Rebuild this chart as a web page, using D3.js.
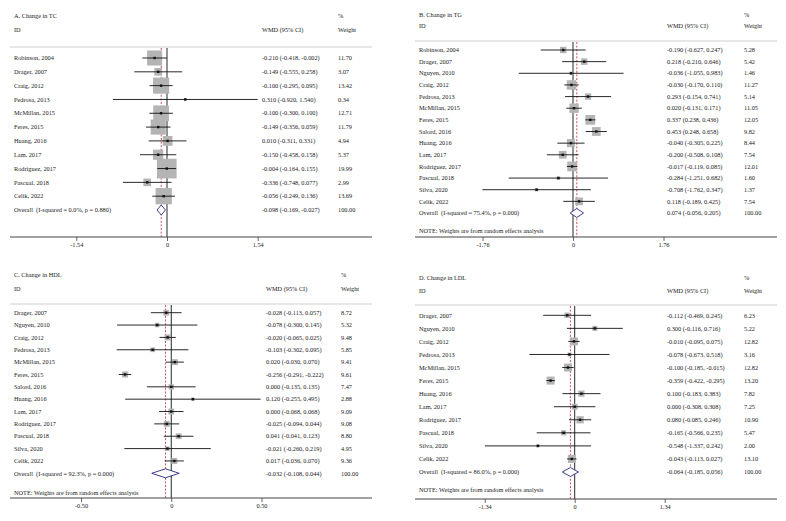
<!DOCTYPE html>
<html><head><meta charset="utf-8">
<script src="https://cdn.jsdelivr.net/npm/d3@7"></script>
<style>
body{margin:0;background:#fff}
text{font-family:"Liberation Serif","Times New Roman",serif;font-size:6.3px;fill:#1a1a1a;white-space:pre}
</style>
</head><body><svg id="c" width="786" height="521"></svg>
<script>
// ---------- DATA ----------
const tcStudies = ["Robinson, 2004","Drager, 2007","Craig, 2012","Pedrosa, 2013","McMillan, 2015","Feres, 2015","Huang, 2016","Lam, 2017","Rodriguez, 2017","Pascual, 2018","Celik, 2022"];
const tcWMD    = [-0.210,-0.149,-0.100,0.310,-0.100,-0.149,0.010,-0.150,-0.004,-0.336,-0.056];
const tcLower  = [-0.418,-0.555,-0.295,-0.920,-0.300,-0.356,-0.311,-0.458,-0.164,-0.748,-0.249];
const tcUpper  = [-0.002,0.258,0.095,1.540,0.100,0.059,0.331,0.158,0.155,0.077,0.136];
const tcWeight = [11.70,3.07,13.42,0.34,12.71,11.79,4.94,5.37,19.99,2.99,13.69];
const tcOverall = [-0.098,-0.169,-0.027];
const tcOverallLabel = "Overall  (I-squared = 0.0%, p = 0.880)";
const tcTicks = [-1.54,0,1.54];

const tgStudies = ["Robinson, 2004","Drager, 2007","Nguyen, 2010","Craig, 2012","Pedrosa, 2013","McMillan, 2015","Feres, 2015","Salord, 2016","Huang, 2016","Lam, 2017","Rodriguez, 2017","Pascual, 2018","Silva, 2020","Celik, 2022"];
const tgWMD    = [-0.190,0.218,-0.036,-0.030,0.293,0.020,0.337,0.453,-0.040,-0.200,-0.017,-0.284,-0.708,0.118];
const tgLower  = [-0.627,-0.210,-1.055,-0.170,-0.154,-0.131,0.238,0.248,-0.305,-0.508,-0.119,-1.251,-1.762,-0.189];
const tgUpper  = [0.247,0.646,0.983,0.110,0.741,0.171,0.436,0.658,0.225,0.108,0.085,0.682,0.347,0.425];
const tgWeight = [5.28,5.42,1.46,11.27,5.14,11.05,12.05,9.82,8.44,7.54,12.01,1.60,1.37,7.54];
const tgOverall = [0.074,-0.056,0.205];
const tgOverallLabel = "Overall  (I-squared = 75.4%, p = 0.000)";
const tgTicks = [-1.76,0,1.76];

const hdlStudies = ["Drager, 2007","Nguyen, 2010","Craig, 2012","Pedrosa, 2013","McMillan, 2015","Feres, 2015","Salord, 2016","Huang, 2016","Lam, 2017","Rodriguez, 2017","Pascual, 2018","Silva, 2020","Celik, 2022"];
const hdlWMD    = [-0.028,-0.078,-0.020,-0.103,0.020,-0.256,0.000,0.120,0.000,-0.025,0.041,-0.021,0.017];
const hdlLower  = [-0.113,-0.300,-0.065,-0.302,-0.030,-0.291,-0.135,-0.255,-0.068,-0.094,-0.041,-0.260,-0.036];
const hdlUpper  = [0.057,0.145,0.025,0.095,0.070,-0.222,0.135,0.495,0.068,0.044,0.123,0.219,0.070];
const hdlWeight = [8.72,5.32,9.48,5.85,9.41,9.61,7.47,2.88,9.09,9.08,8.80,4.95,9.36];
const hdlOverall = [-0.032,-0.108,0.044];
const hdlOverallLabel = "Overall  (I-squared = 92.3%, p = 0.000)";
const hdlTicks = [-0.50,0,0.50];

const ldlStudies = ["Drager, 2007","Nguyen, 2010","Craig, 2012","Pedrosa, 2013","McMillan, 2015","Feres, 2015","Huang, 2016","Lam, 2017","Rodriguez, 2017","Pascual, 2018","Silva, 2020","Celik, 2022"];
const ldlWMD    = [-0.112,0.300,-0.010,-0.078,-0.100,-0.359,0.100,0.000,0.080,-0.165,-0.548,-0.043];
const ldlLower  = [-0.469,-0.116,-0.095,-0.673,-0.185,-0.422,-0.183,-0.308,-0.085,-0.566,-1.337,-0.113];
const ldlUpper  = [0.245,0.716,0.075,0.518,-0.015,-0.295,0.383,0.308,0.246,0.235,0.242,0.027];
const ldlWeight = [6.23,5.22,12.82,3.16,12.82,13.20,7.82,7.25,10.90,5.47,2.00,13.10];
const ldlOverall = [-0.064,-0.185,0.056];
const ldlOverallLabel = "Overall  (I-squared = 86.0%, p = 0.000)";
const ldlTicks = [-1.34,0,1.34];

const noteText = "NOTE: Weights are from random effects analysis";

// ---------- LAYOUT ----------
const panels = [
  {title:"A. Change in TC", studies:tcStudies, wmd:tcWMD, lo:tcLower, hi:tcUpper, w:tcWeight, overall:tcOverall, overallLabel:tcOverallLabel, ticks:tcTicks, note:false,
   x0:10, x1:372, titleY:16, idY:30, headY:47, firstY:58, lastY:210, noteY:0, axisY:237, tickRange:[76.3,257.7], wmdX:262, wtX:338, boxK:4.4, dh:5},
  {title:"B. Change in TG", studies:tgStudies, wmd:tgWMD, lo:tgLower, hi:tgUpper, w:tgWeight, overall:tgOverall, overallLabel:tgOverallLabel, ticks:tgTicks, note:true,
   x0:415, x1:777, titleY:15, idY:26, headY:41, firstY:50, lastY:213, noteY:231, axisY:237, tickRange:[482.5,663.5], wmdX:667, wtX:744, boxK:2.8, dh:4.5},
  {title:"C. Change in HDL", studies:hdlStudies, wmd:hdlWMD, lo:hdlLower, hi:hdlUpper, w:hdlWeight, overall:hdlOverall, overallLabel:hdlOverallLabel, ticks:hdlTicks, note:true,
   x0:10, x1:372, titleY:275, idY:289, headY:304, firstY:312.7, lastY:473.3, noteY:493, axisY:498, tickRange:[81,261.5], wmdX:266, wtX:341, boxK:1.95, dh:4.5},
  {title:"D. Change in LDL", studies:ldlStudies, wmd:ldlWMD, lo:ldlLower, hi:ldlUpper, w:ldlWeight, overall:ldlOverall, overallLabel:ldlOverallLabel, ticks:ldlTicks, note:true,
   x0:415, x1:777, titleY:278, idY:291, headY:305, firstY:315.3, lastY:472, noteY:489.7, axisY:499, tickRange:[484.7,664.7], wmdX:667, wtX:744, boxK:2.2, dh:4.5}
];

const svg = d3.select("#c");
const fmt3 = d3.format(".3f"), fmt2 = d3.format(".2f");
const sf = v => fmt3(v).replace("−","-");

panels.forEach(p => {
  const g = svg.append("g");
  const t = p.ticks[p.ticks.length-1];
  const x = d3.scaleLinear().domain([-t,t]).range(p.tickRange);
  const rows = p.studies.concat(["__overall"]);
  const y = d3.scalePoint().domain(rows).range([p.firstY,p.lastY]);
  const lx = p.x0 + 4;

  // headers
  g.append("text").attr("x",lx).attr("y",p.titleY).attr("dy","0.35em").text(p.title);
  g.append("text").attr("x",lx).attr("y",p.idY).attr("dy","0.35em").text("ID");
  g.append("text").attr("x",p.wmdX).attr("y",p.idY).attr("dy","0.35em").text("WMD (95% CI)");
  g.append("text").attr("x",p.wtX).attr("y",p.titleY).attr("dy","0.35em").text("%");
  g.append("text").attr("x",p.wtX).attr("y",p.idY).attr("dy","0.35em").text("Weight");
  g.append("line").attr("x1",p.x0).attr("x2",p.x1).attr("y1",p.headY).attr("y2",p.headY)
    .attr("stroke","#cfcfcf").attr("stroke-width",1.2);

  // reference lines
  g.append("line").attr("x1",x(0)).attr("x2",x(0)).attr("y1",p.headY+1).attr("y2",p.axisY)
    .attr("stroke","#111").attr("stroke-width",0.9);
  g.append("line").attr("x1",x(p.overall[0])).attr("x2",x(p.overall[0])).attr("y1",p.headY+1).attr("y2",p.axisY)
    .attr("stroke","#c0404a").attr("stroke-width",0.9).attr("stroke-dasharray","2,1.6");

  // studies
  const data = p.studies.map((s,i)=>({s, e:p.wmd[i], lo:p.lo[i], hi:p.hi[i], w:p.w[i]}));
  const rg = g.selectAll("g.row").data(data).join("g");
  rg.append("rect")
    .attr("x",d=>x(d.e)-p.boxK*Math.sqrt(d.w)/2)
    .attr("y",d=>y(d.s)-p.boxK*Math.sqrt(d.w)/2)
    .attr("width",d=>p.boxK*Math.sqrt(d.w))
    .attr("height",d=>p.boxK*Math.sqrt(d.w))
    .attr("fill","#b4b4b4");
  rg.append("line").attr("x1",d=>x(d.lo)).attr("x2",d=>x(d.hi)).attr("y1",d=>y(d.s)).attr("y2",d=>y(d.s))
    .attr("stroke","#111").attr("stroke-width",0.9);
  rg.append("rect").attr("x",d=>x(d.e)-1.2).attr("y",d=>y(d.s)-1.2).attr("width",2.4).attr("height",2.4).attr("fill","#111");
  rg.append("text").attr("x",lx).attr("y",d=>y(d.s)).attr("dy","0.35em").text(d=>d.s);
  rg.append("text").attr("x",p.wmdX).attr("y",d=>y(d.s)).attr("dy","0.35em")
    .text(d=>`${sf(d.e)} (${sf(d.lo)}, ${sf(d.hi)})`);
  rg.append("text").attr("x",p.wtX).attr("y",d=>y(d.s)).attr("dy","0.35em").text(d=>fmt2(d.w));

  // overall
  const oy = y("__overall"), [oe,olo,ohi] = p.overall, h = p.dh;
  g.append("path").attr("d",`M${x(olo)},${oy}L${x(oe)},${oy-h}L${x(ohi)},${oy}L${x(oe)},${oy+h}Z`)
    .attr("fill","#fff").attr("stroke","#27277f").attr("stroke-width",0.9);
  g.append("text").attr("x",lx).attr("y",oy).attr("dy","0.35em").text(p.overallLabel);
  g.append("text").attr("x",p.wmdX).attr("y",oy).attr("dy","0.35em").text(`${sf(oe)} (${sf(olo)}, ${sf(ohi)})`);
  g.append("text").attr("x",p.wtX).attr("y",oy).attr("dy","0.35em").text("100.00");

  if(p.note) g.append("text").attr("x",lx).attr("y",p.noteY).attr("dy","0.35em").text(noteText);

  // axis
  g.append("line").attr("x1",p.x0).attr("x2",p.x1).attr("y1",p.axisY).attr("y2",p.axisY)
    .attr("stroke","#444").attr("stroke-width",1);
  const ax = g.append("g").attr("transform",`translate(0,${p.axisY})`)
    .call(d3.axisBottom(x).tickValues(p.ticks).tickSize(4).tickPadding(2)
      .tickFormat(v => v===0 ? "0" : fmt2(v).replace("−","-")));
  ax.select(".domain").remove();
  ax.selectAll(".tick line").attr("stroke","#444").attr("stroke-width",0.8);
  ax.selectAll(".tick text").attr("font-size",null).attr("font-family",null).attr("fill","#1a1a1a");
});
</script>
</body></html>
